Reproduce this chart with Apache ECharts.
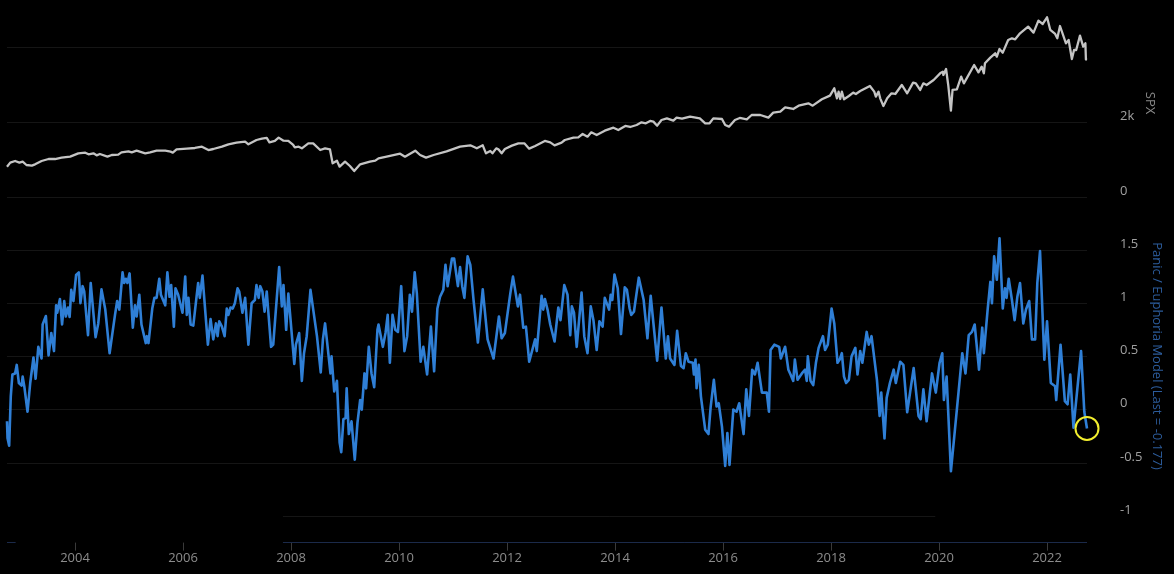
<!DOCTYPE html>
<html>
<head>
<meta charset="utf-8">
<style>html,body{margin:0;padding:0;background:#000}#main{width:1174px;height:574px}</style>
<script src="https://cdn.jsdelivr.net/npm/echarts@6/dist/echarts.min.js"></script>
</head>
<body>
<div id="main"></div>
<script>
var startYear = 2002.74, endYear = 2022.74;
var yearTicks = [2004,2006,2008,2010,2012,2014,2016,2018,2020,2022];
var spxLabels = [0,2000];
var spxGrid = [0,2000,4000];
var modelLabels = [-1,-0.5,0,0.5,1,1.5];
var modelGrid = [-0.5,0,0.5,1,1.5];

// S&P 500
var spxYears = [2002.74,2002.80,2002.89,2002.97,2003.03,2003.10,2003.20,2003.26,2003.38,2003.51,2003.63,2003.75,2003.91,2004.06,2004.19,2004.25,2004.34,2004.40,2004.46,2004.60,2004.68,2004.80,2004.86,2004.99,2005.05,2005.14,2005.30,2005.39,2005.51,2005.67,2005.77,2005.81,2005.88,2006.07,2006.22,2006.35,2006.47,2006.56,2006.72,2006.84,2006.99,2007.15,2007.21,2007.36,2007.46,2007.55,2007.60,2007.70,2007.77,2007.86,2007.95,2008.04,2008.07,2008.14,2008.20,2008.32,2008.41,2008.54,2008.63,2008.72,2008.77,2008.85,2008.90,2009.00,2009.09,2009.17,2009.28,2009.46,2009.56,2009.62,2009.77,2010.02,2010.11,2010.30,2010.39,2010.50,2010.64,2010.88,2011.13,2011.32,2011.44,2011.55,2011.61,
2011.69,2011.73,2011.80,2011.84,2011.90,2011.96,2012.09,2012.21,2012.32,2012.41,2012.52,2012.70,2012.80,2012.88,2013.01,2013.07,2013.23,2013.32,2013.40,2013.49,2013.56,2013.66,2013.81,2013.97,2014.06,2014.19,2014.28,2014.40,2014.49,2014.57,2014.65,2014.71,2014.78,2014.86,2014.96,2015.08,2015.14,2015.24,2015.39,2015.57,2015.67,2015.75,2015.82,2015.98,2016.04,2016.11,2016.22,2016.31,2016.44,2016.53,2016.69,2016.84,2016.93,2017.06,
2017.15,2017.30,2017.40,2017.58,2017.66,2017.83,2017.98,2018.06,2018.11,2018.14,2018.17,2018.20,2018.24,2018.33,2018.41,2018.46,2018.54,2018.72,2018.80,2018.83,2018.88,2018.91,2018.97,2019.04,2019.12,2019.19,2019.31,2019.41,2019.52,2019.57,2019.65,2019.71,2019.77,2019.90,
2020.02,2020.07,2020.08,2020.13,2020.17,2020.22,2020.25,2020.33,2020.41,2020.46,2020.65,2020.73,2020.79,2020.83,2020.85,2020.95,2021.04,2021.07,2021.12,2021.18,2021.28,2021.35,2021.41,2021.50,2021.65,2021.75,2021.84,2021.92,2022.00,2022.06,2022.15,2022.19,2022.24,2022.35,2022.40,2022.46,2022.50,2022.54,2022.61,2022.67,2022.71,2022.72,2022.74];
var spxValues = [809,916,960,916,942,853,836,871,960,1013,1013,1049,1076,1165,1182,1138,1165,1111,1147,1076,1120,1129,1191,1218,1191,1236,1165,1191,1236,1236,1209,1182,1271,1289,1307,1342,1253,1280,1342,1405,1449,1476,1405,1520,1556,1574,1458,1494,1583,1502,1494,1387,1325,1342,1298,1431,1431,1253,1298,1271,898,969,809,942,827,693,871,942,969,1031,1076,1156,1076,1236,1120,1049,1120,1218,1342,1378,1298,1378,1165,
1227,1165,1298,1271,1165,1280,1369,1431,1431,1289,1360,1494,1458,1378,1449,1520,1582,1591,1680,1609,1725,1654,1769,1849,1787,1894,1867,1920,1991,1965,2027,2009,1902,2054,2098,2036,2116,2089,2143,2098,1965,1965,2098,2080,1920,1876,2054,2107,2071,2187,2187,2116,2249,2276,
2391,2347,2436,2498,2436,2605,2703,2898,2631,2809,2614,2809,2605,2694,2783,2747,2827,2960,2809,2676,2809,2631,2427,2631,2765,2747,2987,2765,3049,3031,2854,3031,2987,3120,
3298,3343,3254,3414,2987,2302,2854,2871,3209,3031,3520,3325,3476,3298,3565,3716,3832,3743,3947,3849,4187,4232,4205,4365,4543,4383,4703,4614,4792,4454,4347,4232,4560,4098,4187,3680,3920,3920,4303,4009,4098,3671,3660];

// Panic / Euphoria Model
var modelYears = [2002.74,2002.75,2002.78,2002.81,2002.84,2002.89,2002.92,2002.96,2003.01,2003.03,2003.06,2003.12,2003.17,2003.23,2003.27,2003.32,2003.38,2003.40,2003.46,2003.51,2003.56,2003.61,2003.65,2003.67,2003.72,2003.76,2003.80,2003.83,2003.87,2003.90,2003.93,2003.97,2004.02,2004.07,2004.10,2004.14,2004.17,2004.24,2004.29,2004.38,2004.43,2004.49,2004.56,2004.64,2004.74,2004.78,2004.82,2004.88,2004.91,2004.94,2004.97,2005.01,2005.07,2005.11,2005.14,2005.19,2005.23,2005.31,2005.33,2005.36,2005.43,2005.47,2005.51,2005.56,2005.59,2005.67,2005.71,2005.75,2005.78,2005.83,2005.86,2005.91,2005.94,2005.99,2006.04,2006.07,2006.10,2006.14,2006.19,2006.25,2006.28,2006.31,2006.36,2006.46,2006.51,2006.56,2006.61,2006.64,2006.67,2006.72,2006.77,2006.81,2006.84,2006.88,2006.92,2006.96,2007.01,2007.04,2007.10,2007.15,2007.21,2007.27,2007.33,2007.36,2007.40,2007.43,2007.47,2007.51,2007.55,2007.63,2007.67,2007.78,2007.83,2007.86,2007.91,2007.95,
2008.06,2008.09,2008.15,2008.20,2008.24,2008.29,2008.36,2008.40,2008.43,2008.48,2008.55,2008.59,2008.63,2008.67,2008.73,2008.75,2008.80,2008.85,2008.90,2008.93,2008.97,2009.01,2009.03,2009.07,2009.12,2009.18,2009.23,2009.28,2009.31,2009.36,2009.39,2009.44,2009.49,2009.54,2009.60,2009.62,2009.70,2009.75,2009.79,2009.83,2009.88,2009.93,2009.98,2010.04,2010.10,2010.15,2010.20,2010.24,2010.29,2010.33,2010.40,2010.45,2010.52,2010.59,2010.65,2010.71,2010.76,2010.82,2010.86,2010.90,2010.98,2011.02,2011.09,2011.13,2011.17,2011.21,2011.27,2011.32,2011.38,2011.46,2011.55,2011.64,2011.75,2011.85,2011.90,2011.96,2012.06,2012.11,2012.20,2012.24,2012.30,2012.35,2012.41,2012.52,2012.55,2012.64,
2012.67,2012.70,2012.75,2012.80,2012.88,2012.95,2012.99,2013.06,2013.12,2013.17,2013.20,2013.24,2013.29,2013.38,2013.43,2013.49,2013.55,2013.60,2013.66,2013.71,2013.77,2013.81,2013.89,2013.92,2013.95,2013.99,2014.05,2014.11,2014.18,2014.22,2014.27,2014.30,2014.35,2014.44,2014.53,2014.60,2014.66,2014.78,2014.86,2014.94,2014.98,2015.02,2015.10,2015.15,2015.22,2015.27,2015.31,2015.36,2015.44,2015.46,2015.49,2015.51,2015.55,2015.59,2015.67,2015.73,2015.77,2015.83,2015.88,2015.92,2015.98,2016.04,2016.08,2016.12,2016.19,2016.25,2016.30,2016.38,2016.43,2016.48,2016.54,2016.59,2016.64,2016.72,2016.81,2016.85,2016.88,2016.95,2017.04,2017.07,2017.15,2017.21,2017.25,2017.30,2017.33,2017.38,2017.46,2017.52,2017.55,2017.57,2017.62,2017.67,2017.72,2017.77,
2017.85,2017.89,2017.94,2018.01,2018.06,2018.12,2018.16,2018.20,2018.24,2018.28,2018.33,2018.38,2018.45,2018.49,2018.54,2018.58,2018.66,2018.70,2018.75,2018.85,2018.90,2018.93,2018.99,2019.03,2019.09,2019.16,2019.20,2019.28,2019.34,2019.41,2019.53,2019.62,2019.66,2019.71,2019.77,2019.87,2019.94,2020.01,2020.06,2020.09,2020.14,2020.22,2020.33,2020.43,2020.49,2020.55,2020.61,2020.66,2020.74,2020.80,2020.83,2020.90,2020.95,2020.98,2021.02,2021.07,2021.12,2021.18,2021.22,2021.25,2021.29,2021.35,2021.40,2021.45,2021.50,2021.56,2021.61,2021.67,2021.72,2021.78,2021.82,2021.87,2021.95,2022.00,2022.07,2022.15,2022.17,2022.25,2022.33,2022.38,2022.43,2022.49,2022.63,2022.66,2022.69,2022.72,2022.74];
var modelValues = [-0.11,-0.27,-0.34,0.125,0.33,0.34,0.42,0.25,0.225,0.31,0.22,-0.02,0.25,0.49,0.29,0.59,0.48,0.80,0.88,0.51,0.72,0.55,0.98,0.91,1.04,0.80,1.02,0.875,0.96,0.87,1.125,1.02,1.265,1.29,1.0,1.16,1.11,0.70,1.19,0.68,0.81,1.13,0.94,0.53,0.89,1.02,0.94,1.29,1.19,1.23,1.19,1.28,0.77,0.98,0.875,1.08,0.80,0.625,0.69,0.625,0.95,1.05,1.05,1.23,1.08,0.98,1.29,1.06,1.17,0.78,1.14,1.08,1.09,0.91,1.25,0.89,1.05,0.80,0.79,1.06,1.19,1.05,1.26,0.61,0.85,0.66,0.81,0.69,0.83,0.78,0.69,0.95,0.89,0.96,0.95,1.0,1.14,1.11,0.91,1.05,0.61,1.0,1.03,1.17,1.05,1.16,1.11,0.92,1.11,0.59,0.61,1.34,0.97,1.17,0.75,1.09,
0.43,0.61,0.72,0.27,0.53,0.69,1.125,0.98,0.98,0.69,0.35,0.66,0.81,0.625,0.34,0.50,0.17,0.27,-0.31,-0.40,-0.09,-0.08,0.20,-0.23,-0.11,-0.47,-0.125,0.09,0,0.34,0.20,0.59,0.34,0.21,0.75,0.80,0.59,0.72,0.89,0.44,0.89,0.75,0.73,1.16,0.55,0.69,1.08,0.92,1.29,1.09,0.45,0.59,0.33,0.78,0.36,0.95,1.06,1.125,1.36,1.16,1.42,1.42,1.16,1.34,1.16,1.05,1.44,1.36,1.03,0.63,1.13,0.66,0.48,0.875,0.67,0.72,1.09,1.25,0.97,1.08,0.77,0.78,0.45,0.66,0.55,1.07,
0.94,1.04,0.94,0.80,0.64,0.96,0.84,1.17,1.08,0.70,0.97,0.91,0.59,1.10,0.69,0.53,0.97,0.84,0.56,0.83,0.78,1.05,0.94,1.08,1.03,1.27,1.14,0.71,1.15,1.125,0.95,0.89,0.92,1.24,1.03,0.67,1.07,0.46,0.96,0.48,0.69,0.48,0.42,0.74,0.41,0.39,0.53,0.45,0.44,0.33,0.47,0.20,0.42,0.125,-0.19,-0.23,0.02,0.28,0.03,0.06,-0.16,-0.53,-0.22,-0.52,0,-0.02,0.06,-0.23,0.19,-0.06,0.375,0.33,0.44,0.16,0.16,-0.02,0.56,0.61,0.59,0.48,0.59,0.375,0.33,0.27,0.47,0.28,0.34,0.375,0.27,0.50,0.27,0.23,0.44,0.58,
0.69,0.56,0.61,0.95,0.81,0.44,0.47,0.53,0.31,0.25,0.28,0.50,0.58,0.33,0.55,0.44,0.73,0.61,0.69,0.28,-0.06,0.16,-0.27,0.11,0.25,0.375,0.25,0.45,0.42,-0.025,0.39,-0.06,-0.09,0.19,-0.11,0.34,0.16,0.44,0.53,0.09,0.31,-0.58,0,0.53,0.34,0.70,0.73,0.80,0.375,0.77,0.53,0.94,1.20,1.0,1.44,1.22,1.61,0.95,1.14,1.05,1.23,1.03,0.84,1.06,1.19,0.81,0.94,1.02,0.66,0.66,1.19,1.49,0.47,0.83,0.25,0.22,0.09,0.61,0.08,0.05,0.33,-0.17,0.55,0.55,-0.02,-0.025,-0.177];

function pairs(xs, ys) {
    return xs.map(function (x, i) { return [x, ys[i]]; });
}

var gridColor = '#151515';
var axisColor = '#1b2a4a';
var labelColor = '#8c8c8c';
var fontName = '"Open Sans", sans-serif';

var chart = echarts.init(document.getElementById('main'));
var lastIdx = modelYears.length - 1;

chart.setOption({
    backgroundColor: '#000',
    animation: false,
    grid: [
        {left: 7, right: 87, top: 9.5, height: 187.5},
        {left: 7, right: 87, top: 223.4, height: 319.2}
    ],
    xAxis: [
        {type: 'value', gridIndex: 0, min: startYear, max: endYear, show: false, splitLine: {show: false}},
        {
            type: 'value', gridIndex: 1, min: startYear, max: endYear,
            splitLine: {show: false},
            axisLine: {show: false, onZero: false},
            axisTick: {show: true, length: 8, customValues: yearTicks, lineStyle: {color: '#3a3a3a'}},
            axisLabel: {customValues: yearTicks, color: labelColor, fontFamily: fontName, fontSize: 13, margin: 9,
                formatter: function (v) { return String(v); }}
        }
    ],
    yAxis: [
        {
            type: 'value', gridIndex: 0, position: 'right', min: 0, max: 5000,
            axisLine: {show: false},
            axisTick: {show: false, customValues: spxGrid},
            splitLine: {show: true, lineStyle: {color: gridColor, width: 1}},
            axisLabel: {customValues: spxLabels, color: '#a0a0a0', fontFamily: fontName, fontSize: 13, margin: 33,
                verticalAlign: 'bottom', lineHeight: 12,
                formatter: function (v) { return v ? (v / 1000) + 'k' : '0'; }}
        },
        {
            type: 'value', gridIndex: 1, position: 'right', min: -1.25, max: 1.75,
            axisLine: {show: false},
            axisTick: {show: false, customValues: modelGrid},
            splitLine: {show: true, lineStyle: {color: gridColor, width: 1}},
            axisLabel: {customValues: modelLabels, color: '#a0a0a0', fontFamily: fontName, fontSize: 13, margin: 33,
                verticalAlign: 'bottom', lineHeight: 12,
                formatter: function (v) { return String(v); }}
        }
    ],
    series: [
        {
            name: 'SPX', type: 'line', xAxisIndex: 0, yAxisIndex: 0,
            data: pairs(spxYears, spxValues),
            showSymbol: false, lineStyle: {color: '#c4c4c4', width: 2.3, join: 'round'}
        },
        {
            name: 'Panic / Euphoria Model', type: 'line', xAxisIndex: 1, yAxisIndex: 1,
            data: pairs(modelYears, modelValues),
            showSymbol: false, z: 3, lineStyle: {color: '#2f7fd6', width: 2.6, join: 'round'},
            // the bottom rule and the -1 gridline only show in parts on the original
            markLine: {
                silent: true, symbol: 'none', label: {show: false}, animation: false,
                data: [
                    [{coord: [startYear, -1.25], lineStyle: {color: axisColor, width: 1, type: 'solid'}}, {coord: [2002.9, -1.25]}],
                    [{coord: [2007.85, -1.25], lineStyle: {color: axisColor, width: 1, type: 'solid'}}, {coord: [endYear, -1.25]}],
                    [{coord: [2007.85, -1], lineStyle: {color: gridColor, width: 1, type: 'solid'}}, {coord: [2019.93, -1]}]
                ]
            },
            markPoint: {
                silent: true, symbol: 'circle', symbolSize: 23, label: {show: false},
                itemStyle: {color: 'rgba(0,0,0,0)', borderColor: '#f2ee2e', borderWidth: 2},
                data: [{coord: [modelYears[lastIdx], modelValues[lastIdx]]}]
            }
        }
    ],
    graphic: [
        {type: 'text', x: 1150, y: 103, rotation: -Math.PI / 2,
            style: {text: 'SPX', fill: '#8a8a8a', font: '13px ' + fontName, align: 'center', verticalAlign: 'middle'}},
        {type: 'text', x: 1157, y: 356, rotation: -Math.PI / 2,
            style: {text: 'Panic / Euphoria Model (Last = -0.177)', fill: '#2c5c9c', font: '13px ' + fontName, align: 'center', verticalAlign: 'middle'}}
    ]
});
</script>
</body>
</html>
